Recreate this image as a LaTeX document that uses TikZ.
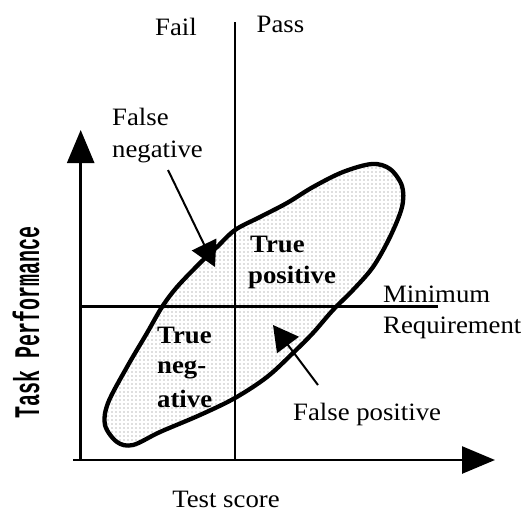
\documentclass[tikz,border=0pt]{standalone}
\usepackage{fontspec}
\setmainfont{Liberation Serif}[FakeStretch=1.07]
\newfontfamily\axisfont{Liberation Mono}
\usetikzlibrary{arrows.meta,patterns}
\pgfdeclarepatternformonly{sparsedots}{\pgfqpoint{-1pt}{-1pt}}{\pgfqpoint{1pt}{1pt}}{\pgfqpoint{4pt}{4pt}}{\pgfpathcircle{\pgfqpoint{0pt}{0pt}}{0.6pt}\pgfusepath{fill}}
\tikzset{
  lbl/.style={font=\fontsize{25}{30}\selectfont, inner sep=0pt, anchor=base west},
  lblc/.style={lbl, anchor=base},
  blbl/.style={lbl, font=\fontsize{25}{30}\selectfont\bfseries},
  axisline/.style={line width=2.6pt, -{Triangle[length=33pt,width=27pt]}},
  gridline/.style={line width=2.2pt},
  callout/.style={line width=2pt, -{Triangle[length=25pt,width=27pt]}},
  region/.style={line width=4.3pt, pattern=sparsedots, pattern color=black!55, line join=round}
}
\begin{document}
\begin{tikzpicture}[x=1pt,y=-1pt]
\useasboundingbox (0,0) rectangle (531,512);
% coordinates
\coordinate (origin) at (80.7,460);
\coordinate (xstart) at (73,460);
\coordinate (xend) at (495,460);
\coordinate (ytop) at (80.7,130);
\coordinate (vtop) at (235,22);
\coordinate (vbot) at (235,460);
\coordinate (hleft) at (80.7,306.5);
\coordinate (hright) at (438,306.5);
\coordinate (fnstart) at (168,170);
\coordinate (fntip) at (215,267);
\coordinate (fpstart) at (318,385);
\coordinate (fptip) at (273,325);
% region
\draw[region] plot[smooth cycle, tension=0.55] coordinates {
 (372,164) (390,169) (402,186) (402,207) (390,237) (373,267) (353,290)
 (333,310) (313,333) (293,353) (267,377) (235,398) (200,415) (160,432)
 (133,445) (117,442) (105,425) (108,403) (127,367) (147,333) (162,307)
 (177,287) (200,263) (217,247) (235,230) (260,217) (287,203) (313,187) (343,172)};
% axes and thresholds
\draw[axisline] (origin) -- (ytop);
\draw[axisline] (xstart) -- (xend);
\draw[gridline] (vtop) -- (vbot);
\draw[gridline] (hleft) -- (hright);
% labels
\node[lblc] (fail) at (176,35) {Fail};
\node[lblc] (pass) at (280.5,32) {Pass};
\node[lbl] (fn1) at (112,125) {False};
\node[lbl] (fn2) at (112,157) {negative};
\node[blbl] (tp1) at (250,252) {True};
\node[blbl] (tp2) at (248,283) {positive};
\node[blbl] (tn1) at (157,343) {True};
\node[blbl] (tn2) at (157,373) {neg-};
\node[blbl] (tn3) at (157,407) {ative};
\node[lbl] (min1) at (383,302) {Minimum};
\node[lbl] (min2) at (383,333) {Requirement};
\node[lbl] (fp) at (293,420) {False positive};
\node[lblc] (xlabel) at (226,507) {Test score};
\node[rotate=90, inner sep=0pt] (ylabel) at (26,322)
  {\scalebox{1}[1.8]{\axisfont\bfseries\fontsize{20}{24}\selectfont Task Performance}};
% callouts
\draw[callout] (fnstart) -- (fntip);
\draw[callout] (fpstart) -- (fptip);
\end{tikzpicture}
\end{document}
